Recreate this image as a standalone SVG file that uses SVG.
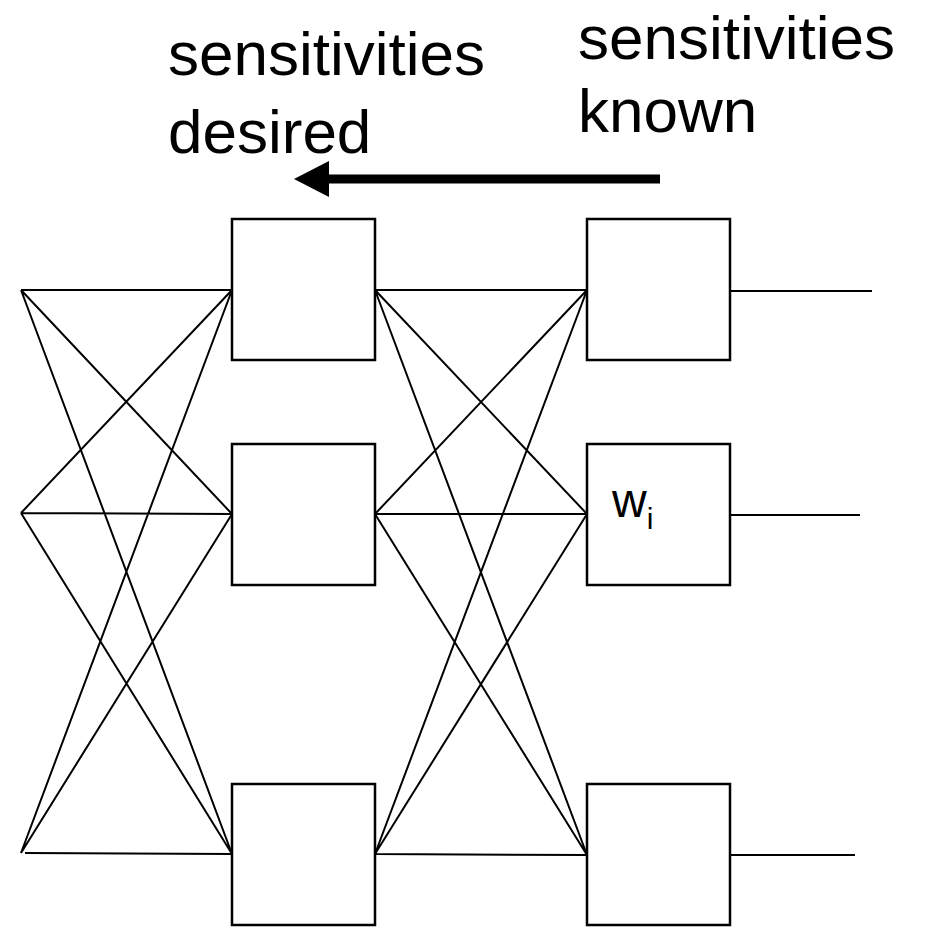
<svg xmlns="http://www.w3.org/2000/svg" width="927" height="927" viewBox="0 0 927 927">
<style>
.box{fill:#fff;stroke:#000;stroke-width:2.5}
.ln{stroke:#000;stroke-width:2;fill:none}
.lbl{font-family:"Liberation Sans",Arial,sans-serif;font-size:62px;fill:#000}
</style>
<defs>
<marker id="ah" markerUnits="userSpaceOnUse" markerWidth="36" markerHeight="38" refX="1" refY="19" orient="auto" overflow="visible">
<path d="M0,1 L35,19 L0,37 Z" fill="#000"/>
</marker>
</defs>
<rect width="927" height="927" fill="#fff"/>
<g id="connectors">
<path class="ln" d="M21,290 L232,290 M21,290 L232,514 M21,290 L232,854 M21,513 L232,290 M21,513 L232,514 M21,513 L232,854 M21,853 L232,290 M21,853 L232,514 M25,853 L232,854"/>
<path class="ln" d="M375,290 L587,290 M375,290 L587,514 M375,290 L587,855 M375,514 L587,290 M375,514 L587,514 M375,514 L587,855 M375,854 L587,290 M375,854 L587,514 M375,854 L587,855"/>
<path class="ln" d="M730,291 L872,291 M730,515 L860,515 M730,855 L855,855"/>
<line x1="660" y1="179" x2="328" y2="179" stroke="#000" stroke-width="9" marker-end="url(#ah)"/>
</g>
<g id="h1"><rect class="box" x="232" y="219" width="143" height="141"/></g>
<g id="h2"><rect class="box" x="232" y="444" width="143" height="141"/></g>
<g id="h3"><rect class="box" x="232" y="784" width="143" height="141"/></g>
<g id="o1"><rect class="box" x="587" y="219" width="143" height="141"/></g>
<g id="o2"><rect class="box" x="587" y="444" width="143" height="141"/>
<text x="612" y="517" font-family="Liberation Sans,Arial,sans-serif" font-size="48">w<tspan font-size="30" dy="12">i</tspan></text></g>
<g id="o3"><rect class="box" x="587" y="784" width="143" height="141"/></g>
<g id="labels">
<text class="lbl" x="168" y="75">sensitivities</text>
<text class="lbl" x="168" y="153">desired</text>
<text class="lbl" x="578" y="59">sensitivities</text>
<text class="lbl" x="578" y="132">known</text>
</g>
</svg>
